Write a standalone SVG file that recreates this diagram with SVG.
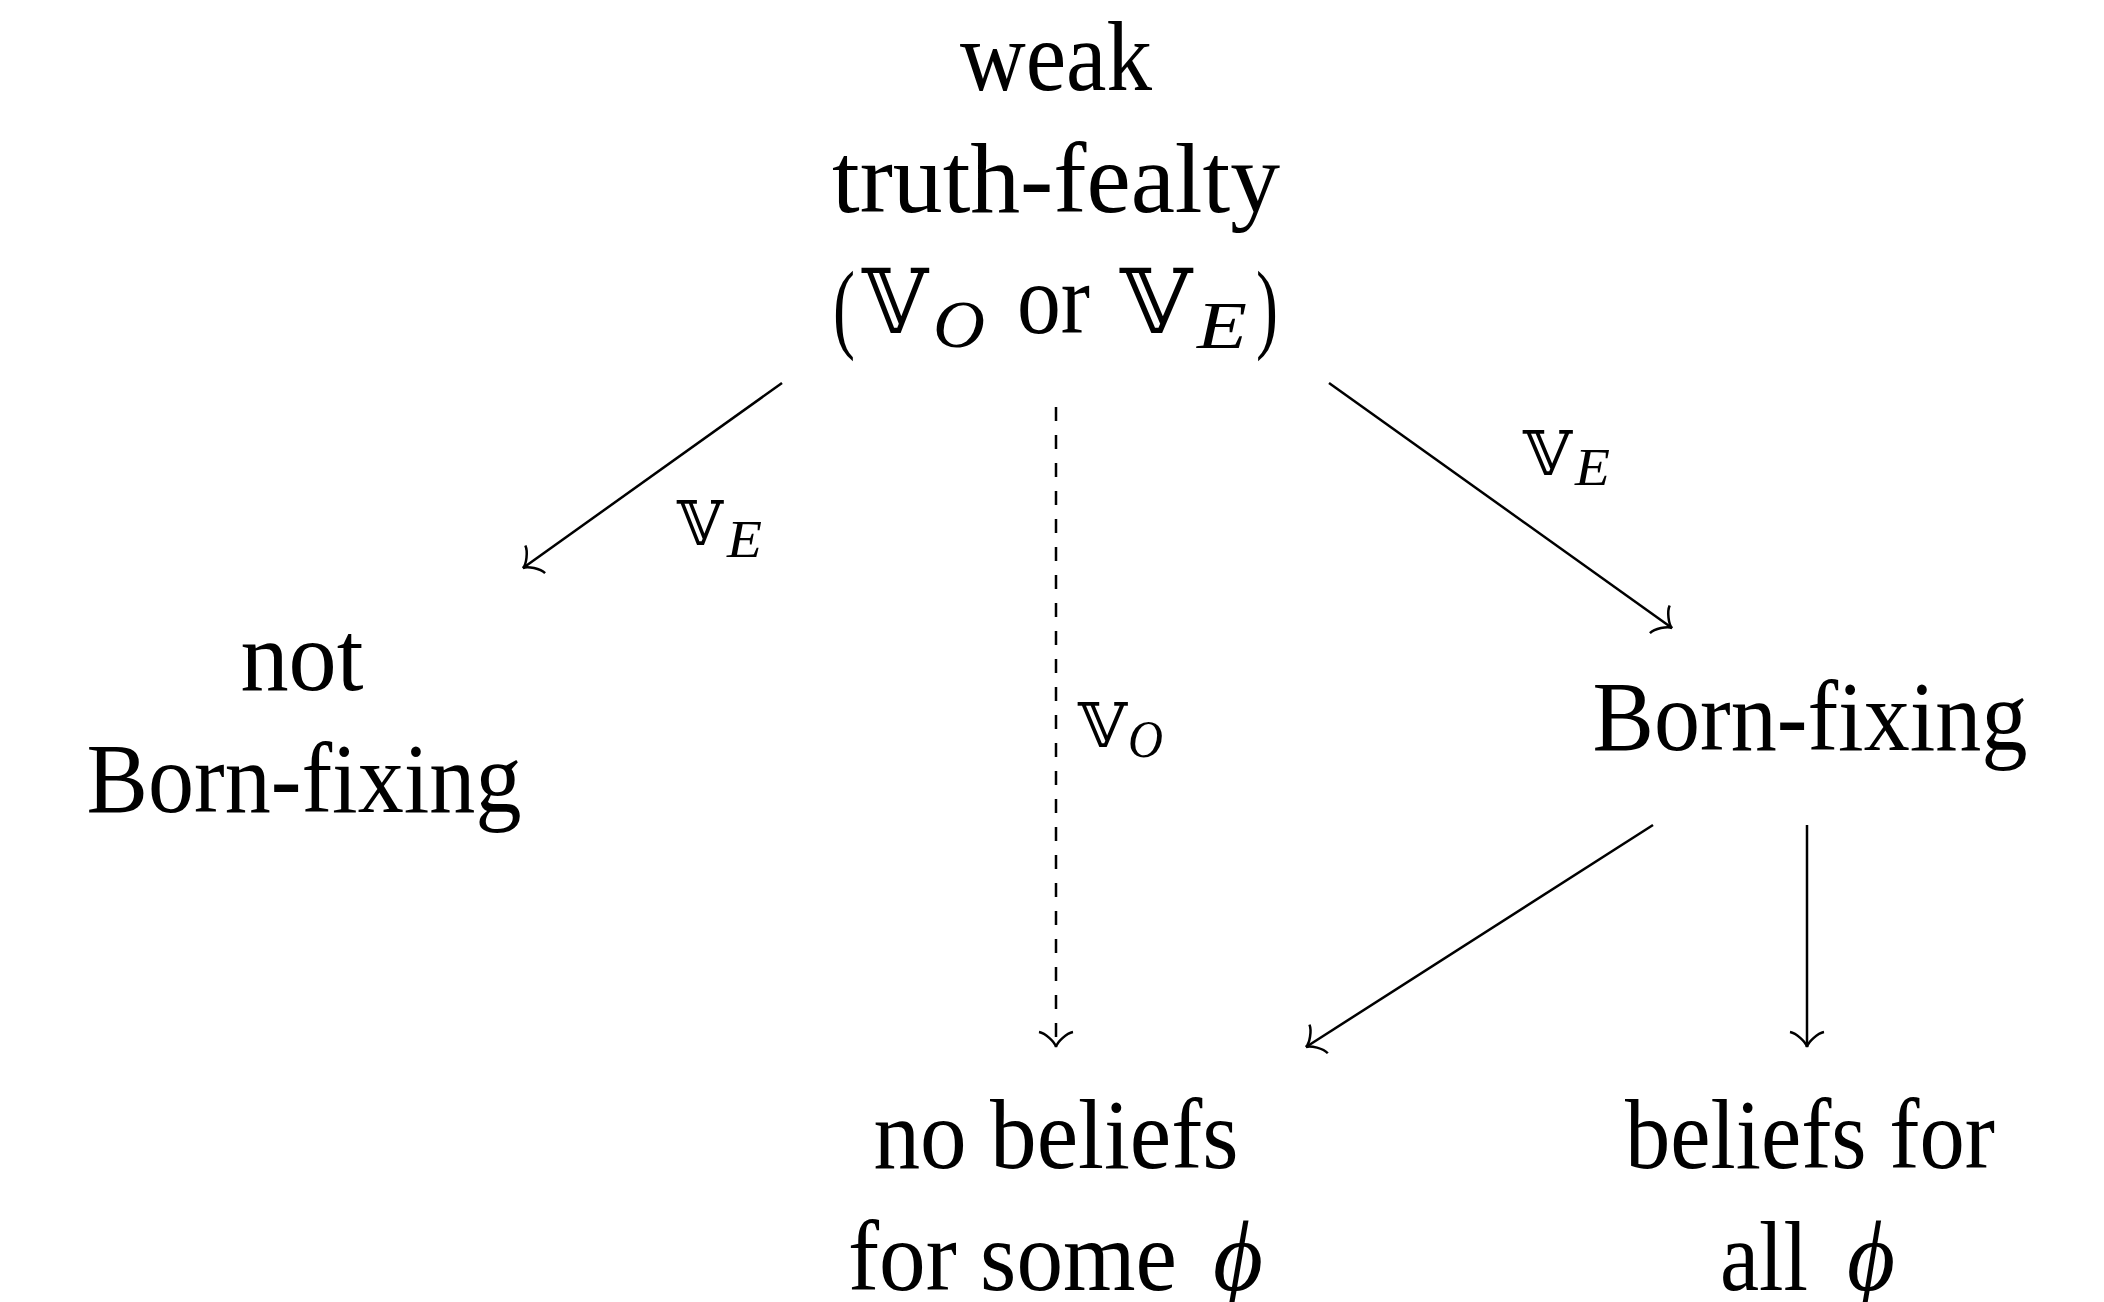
<svg xmlns="http://www.w3.org/2000/svg" width="2104" height="1302" viewBox="0 0 2104 1302">
<style>
.t{font-family:"Liberation Serif","DejaVu Serif",serif;font-size:100px;fill:#000}
.m{font-family:"DejaVu Serif","DejaVu Sans",serif;fill:#000}
.i{font-family:"Liberation Serif","DejaVu Serif",serif;font-style:italic;fill:#000}
.e{fill:none;stroke:#000;stroke-width:2.5}
.d{stroke-dasharray:14 14}
</style>
<defs>
<marker id="to" markerUnits="userSpaceOnUse" orient="auto" refX="0" refY="0" markerWidth="40" markerHeight="40" overflow="visible">
<path d="M -15,-17 C -13.8,-10.6 -5,-1 0,0 C -5,1 -13.8,10.6 -15,17" fill="none" stroke="#000" stroke-width="2.5"/>
</marker>
</defs>
<rect width="2104" height="1302" fill="#fff"/>
<g id="connectors">
<line class="e" x1="782" y1="383" x2="523" y2="568" marker-end="url(#to)"/>
<line class="e" x1="1329" y1="383" x2="1672" y2="628" marker-end="url(#to)"/>
<line class="e d" x1="1056" y1="407" x2="1056" y2="1047" marker-end="url(#to)"/>
<line class="e" x1="1653" y1="825" x2="1306" y2="1047" marker-end="url(#to)"/>
<line class="e" x1="1807" y1="825" x2="1807" y2="1047" marker-end="url(#to)"/>
<g id="label-left">
<text class="m" x="677" y="545" font-size="62" textLength="46" lengthAdjust="spacingAndGlyphs">𝕍</text>
<text class="i" x="727" y="557" font-size="52" textLength="35" lengthAdjust="spacingAndGlyphs">E</text>
</g>
<g id="label-right">
<text class="m" x="1523" y="475" font-size="62" textLength="49" lengthAdjust="spacingAndGlyphs">𝕍</text>
<text class="i" x="1575" y="485" font-size="52" textLength="35" lengthAdjust="spacingAndGlyphs">E</text>
</g>
<g id="label-mid">
<text class="m" x="1078" y="747" font-size="62" textLength="49" lengthAdjust="spacingAndGlyphs">𝕍</text>
<text class="i" x="1128" y="757" font-size="52" textLength="35" lengthAdjust="spacingAndGlyphs">O</text>
</g>
</g>
<g id="node-top">
<text class="t" x="1056" y="90" text-anchor="middle" textLength="192" lengthAdjust="spacingAndGlyphs">weak</text>
<text class="t" x="1056" y="212" text-anchor="middle" textLength="448" lengthAdjust="spacingAndGlyphs">truth-fealty</text>
<text class="t" x="833" y="340" font-size="112" textLength="22" lengthAdjust="spacingAndGlyphs">(</text>
<text class="m" x="862" y="333" font-size="90" textLength="66" lengthAdjust="spacingAndGlyphs">𝕍</text>
<text class="i" x="933" y="347" font-size="68" textLength="52" lengthAdjust="spacingAndGlyphs">O</text>
<text class="t" x="1017" y="333" textLength="73" lengthAdjust="spacingAndGlyphs">or</text>
<text class="m" x="1120" y="333" font-size="90" textLength="72" lengthAdjust="spacingAndGlyphs">𝕍</text>
<text class="i" x="1197" y="348" font-size="68" textLength="50" lengthAdjust="spacingAndGlyphs">E</text>
<text class="t" x="1256" y="340" font-size="112" textLength="22" lengthAdjust="spacingAndGlyphs">)</text>
</g>
<g id="node-not-born">
<text class="t" x="302" y="690" text-anchor="middle" textLength="123" lengthAdjust="spacingAndGlyphs">not</text>
<text class="t" x="304" y="812" text-anchor="middle" textLength="435" lengthAdjust="spacingAndGlyphs">Born-fixing</text>
</g>
<g id="node-born">
<text class="t" x="1810" y="750" text-anchor="middle" textLength="435" lengthAdjust="spacingAndGlyphs">Born-fixing</text>
</g>
<g id="node-no-beliefs">
<text class="t" x="1056" y="1168" text-anchor="middle" textLength="365" lengthAdjust="spacingAndGlyphs">no beliefs</text>
<text class="t" x="848" y="1290" textLength="329" lengthAdjust="spacingAndGlyphs">for some</text>
<text class="i" x="1213" y="1290" font-size="100" textLength="50" lengthAdjust="spacingAndGlyphs">ϕ</text>
</g>
<g id="node-beliefs-all">
<text class="t" x="1625" y="1168" textLength="370" lengthAdjust="spacingAndGlyphs">beliefs for</text>
<text class="t" x="1720" y="1290" textLength="88" lengthAdjust="spacingAndGlyphs">all</text>
<text class="i" x="1847" y="1290" font-size="100" textLength="48" lengthAdjust="spacingAndGlyphs">ϕ</text>
</g>
</svg>
